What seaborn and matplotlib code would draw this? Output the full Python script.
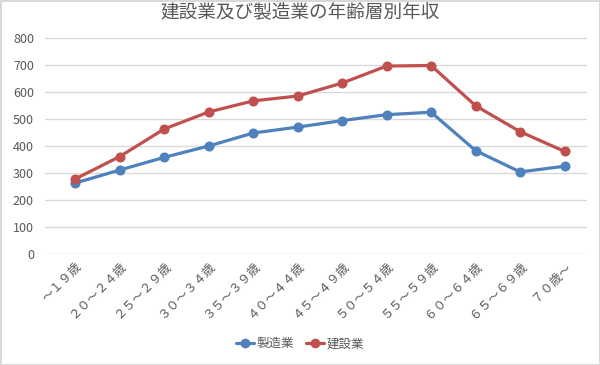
import matplotlib
matplotlib.use("Agg")
import matplotlib.pyplot as plt
import seaborn as sns
import pandas as pd

categories = ["～１９歳", "２０～２４歳", "２５～２９歳", "３０～３４歳", "３５～３９歳",
              "４０～４４歳", "４５～４９歳", "５０～５４歳", "５５～５９歳", "６０～６４歳",
              "６５～６９歳", "７０歳～"]
manufacturing = [263, 311, 358, 400, 448, 470, 494, 516, 525, 383, 304, 325]
construction = [278, 361, 463, 526, 567, 585, 633, 696, 698, 549, 453, 380]
series_names = ["製造業", "建設業"]
yticks = [0, 100, 200, 300, 400, 500, 600, 700, 800]

df = pd.DataFrame({
    "age": categories * 2,
    "value": manufacturing + construction,
    "industry": [series_names[0]] * len(categories) + [series_names[1]] * len(categories),
})

sns.set_theme(style="white")
plt.rcParams["font.family"] = ["Noto Sans CJK JP", "DejaVu Sans"]

fig = plt.figure(figsize=(6.0, 3.65), dpi=100)
fig.patch.set_facecolor("white")
fig.patch.set_edgecolor("#D9D9D9")
fig.patch.set_linewidth(1.0)
ax = fig.add_axes([0.075, 0.304, 0.903, 0.592])

sns.pointplot(data=df, x="age", y="value", hue="industry", order=categories,
              hue_order=series_names, palette=["#4F81BD", "#C0504D"],
              markers="o", markersize=5.5, linewidth=2.3, ax=ax, legend=False)

ax.set_ylim(0, 800)
ax.set_xlim(-0.68, len(categories) - 0.5)
ax.set_yticks(yticks)
ax.yaxis.grid(True, color="#D9D9D9", linewidth=1)
ax.set_axisbelow(True)
for s in ax.spines.values():
    s.set_visible(False)
ax.set_xlabel("")
ax.set_ylabel("")
ax.tick_params(axis="y", colors="#595959", labelsize=9, length=0, pad=8)
ax.tick_params(axis="x", colors="#595959", labelsize=9, length=0, pad=4)
plt.setp(ax.get_xticklabels(), rotation=45, ha="right", va="top", rotation_mode="anchor")

fig.suptitle("建設業及び製造業の年齢層別年収", x=0.5, y=0.99, fontsize=13.4, color="#595959")

from matplotlib.lines import Line2D
handles = [Line2D([], [], color=c, marker="o", markersize=6, linewidth=2.3)
           for c in ["#4F81BD", "#C0504D"]]
leg = fig.legend(handles, series_names, loc="center", bbox_to_anchor=(0.5, 0.058), ncol=2,
                 frameon=False, fontsize=9, handlelength=1.4, handletextpad=0.2, columnspacing=1.0)
for t in leg.get_texts():
    t.set_color("#595959")

fig.savefig("out.png", dpi=100, facecolor=fig.get_facecolor(), edgecolor=fig.get_edgecolor())
